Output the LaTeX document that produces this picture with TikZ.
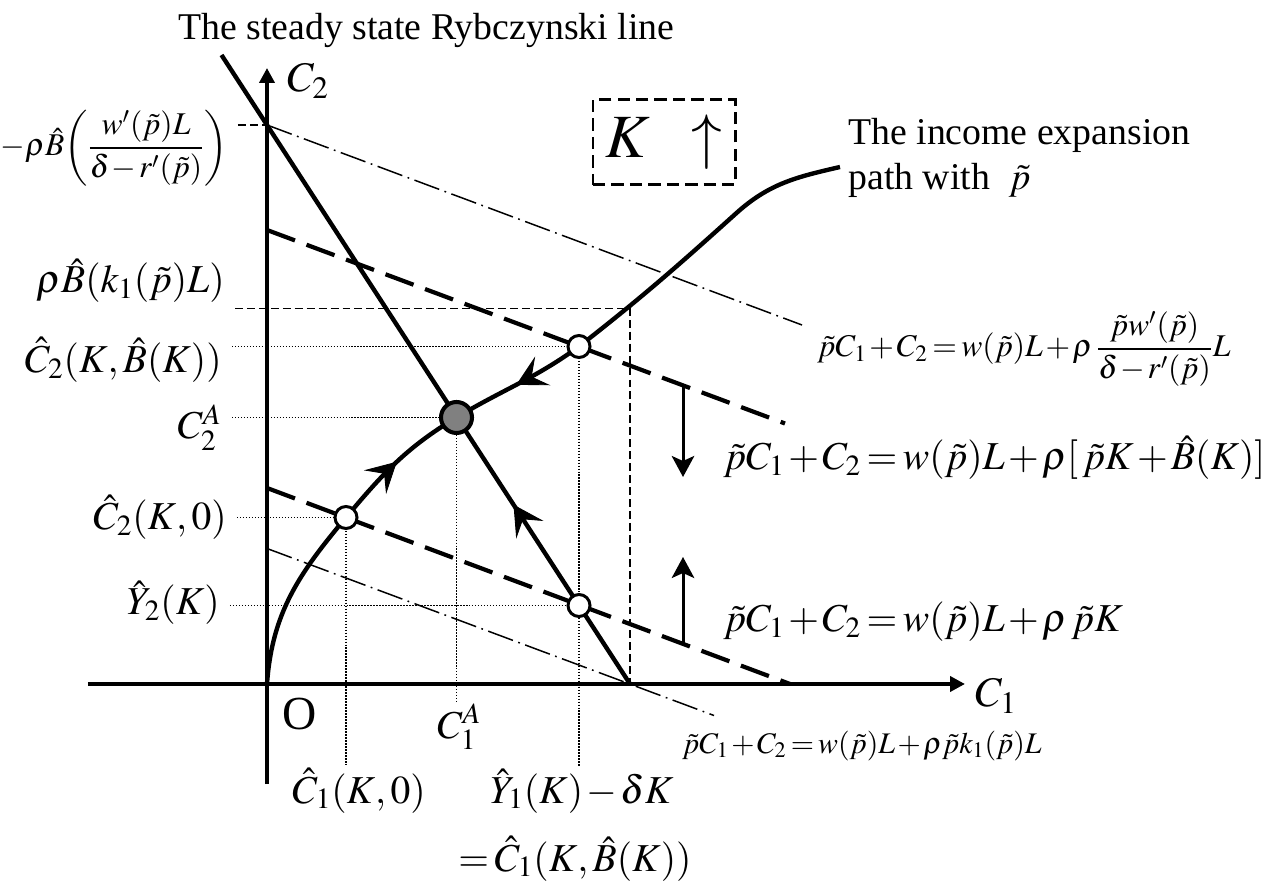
\documentclass[tikz,border=0pt]{standalone}
\usepackage{mathptmx}
\usepackage[no-math]{fontspec}
\setmainfont{Liberation Serif}
\usetikzlibrary{arrows.meta,decorations.markings}
\newcommand{\tightops}{\medmuskip=1.5mu\thickmuskip=2.5mu}

\tikzset{
  flowtip/.tip={Stealth[length=0.6cm,width=0.65cm,inset=0.25cm,line width=0.5pt]},
  axis/.style={line width=2.6pt,-{Triangle[length=0.3cm,width=0.3cm]}},
  curveline/.style={line width=2.5pt},
  budget/.style={line width=2.4pt,dash pattern=on 17pt off 7pt},
  dashdot/.style={line width=0.85pt,dash pattern=on 15pt off 3.2pt on 1pt off 3.2pt},
  guide/.style={line width=0.85pt,dash pattern=on 0.85pt off 0.85pt},
  guidedash/.style={line width=0.85pt,dash pattern=on 4.5pt off 2.3pt},
  shift arrow/.style={line width=1.7pt,-{Stealth[length=0.42cm,width=0.45cm,inset=0.1cm]}},
  midarrow/.style={postaction={decorate},decoration={markings,mark=at position #1 with {\arrow{flowtip}}}},
  midarrowback/.style={postaction={decorate},decoration={markings,mark=at position #1 with {\arrowreversed{flowtip}}}},
  opendot/.style={circle,draw,fill=white,line width=1.7pt,inner sep=0pt,minimum size=0.44cm},
  eqdot/.style={circle,draw,fill=gray,line width=2.3pt,inner sep=0pt,minimum size=0.62cm},
  leftlab/.style={anchor=base east,inner xsep=0.2cm,inner ysep=0.05cm},
  downlab/.style={anchor=base west,inner sep=0.05cm},
  axislab/.style={anchor=base west,font=\fontsize{24}{28}\selectfont},
  bigmath/.style={anchor=base west,font=\fontsize{22.5}{27}\selectfont\tightops},
  smallmath/.style={anchor=base west,font=\fontsize{18}{22}\selectfont\tightops},
  words/.style={anchor=base west,font=\fontsize{21.5}{25}\selectfont},
}

\begin{document}
\begin{tikzpicture}[font=\fontsize{22.5}{27}\selectfont\tightops,inner sep=0pt]
  \useasboundingbox (-5.34,-3.96) rectangle (19.92,13.68);
  % key points
  \coordinate (O) at (0,0);
  \coordinate (ptB) at (1.58,3.33);
  \coordinate (ptE) at (3.79,5.33);
  \coordinate (ptA) at (6.24,6.75);
  \coordinate (ptD) at (6.24,1.57);
  \coordinate (rybTop) at (-0.91,12.58);
  \coordinate (rybFoot) at (7.26,0);
  \coordinate (rybCut) at (0,11.18);
  \coordinate (kink) at (7.26,7.51);
  \coordinate (pathBend) at (9.39,9.42);
  \coordinate (pathEnd) at (11.46,10.34);
  \coordinate (xStart) at (-3.58,0);
  \coordinate (xEnd) at (13.96,0);
  \coordinate (yStart) at (0,-2.0);
  \coordinate (yEnd) at (0,12.32);

  % labels on the C2 side
  \node[leftlab,anchor=east,font=\fontsize{18}{22}\selectfont\tightops] (lTop) at (-0.58,10.72)
    {$-\rho\hat B\!\left(\displaystyle\frac{w'(\tilde p)L}{\delta-r'(\tilde p)}\right)$};
  \node[leftlab] (lRhoB) at (-0.64,7.82) {$\rho\hat B(k_1(\tilde p)L)$};
  \node[leftlab] (lC2B) at (-0.7,6.23) {$\hat C_2(K,\hat B(K))$};
  \node[leftlab] (lC2A) at (-0.7,4.9) {$C_2^A$};
  \node[leftlab] (lC20) at (-0.6,3.08) {$\hat C_2(K,0)$};
  \node[leftlab] (lY2) at (-0.74,1.38) {$\hat Y_2(K)$};

  % labels on the C1 side
  \node[anchor=base west,font=\fontsize{27}{30}\selectfont] (oLab) at (0.30,-0.92) {O};
  \node[downlab] (lC1A) at (3.35,-1.08) {$C_1^A$};
  \node[downlab] (lC1K) at (0.45,-2.38) {$\hat C_1(K,0)$};
  \node[downlab] (lY1) at (4.41,-2.38) {$\hat Y_1(K)-\delta K$};
  \node[downlab] (lEq) at (3.77,-3.74) {$=\hat C_1(K,\hat B(K))$};

  % guide lines
  \draw[guidedash] (lTop.east |- rybCut) -- (rybCut);
  \draw[guidedash] (lRhoB.east |- kink) -- (kink) -- (rybFoot);
  \draw[guide] (lC2B.east |- ptA) -- (ptA) -- (ptA |- lY1.north);
  \draw[guide] (lC2A.east |- ptE) -- (ptE) -- (ptE |- lC1A.north);
  \draw[guide] (lC20.east |- ptB) -- (ptB) -- (ptB |- lC1K.north);
  \draw[guide] (lY2.east |- ptD) -- (ptD);

  % budget lines
  \draw[dashdot] (rybCut) -- (10.7,7.18);
  \draw[budget] (0,9.08) -- (10.36,5.21);
  \draw[budget] (0,3.92) -- (10.46,0);
  \draw[dashdot] (0,2.71) -- (8.94,-0.63);

  % axes
  \draw[axis] (xStart) -- (xEnd);
  \draw[axis] (yStart) -- (yEnd);
  \node[axislab] (c2Lab) at (0.40,11.84) {$C_2$};
  \node[axislab] (c1Lab) at (14.16,-0.46) {$C_1$};

  % Rybczynski line and income expansion path
  \draw[curveline,midarrowback=0.715] (rybTop) -- (rybFoot);
  \draw[curveline,midarrow=0.78] (O) to[out=86,in=230] (ptB) to[out=50,in=211] (ptE);
  \draw[curveline,midarrow=0.52] (ptA) to[out=216,in=31] (ptE);
  \draw[curveline] (ptA) to[out=38,in=222] (pathBend) to[out=42,in=193] (pathEnd);

  \node[opendot] (dotA) at (ptA) {};
  \node[opendot] (dotB) at (ptB) {};
  \node[opendot] (dotD) at (ptD) {};
  \node[eqdot] (dotE) at (ptE) {};

  % shifts of the budget line
  \draw[shift arrow] (8.32,5.97) -- (8.32,4.14);
  \draw[shift arrow] (8.32,0.81) -- (8.32,2.54);

  % texts
  \node[words] (rybTitle) at (-1.78,12.88) {The steady state Rybczynski line};
  \node[words] (incLine1) at (11.62,10.78) {The income expansion};
  \node[words] (incLine2) at (11.62,9.88) {path with\enspace$\tilde p$};
  \node[draw,line width=1.7pt,dash pattern=on 7pt off 3.5pt,minimum width=2.84cm,minimum height=1.7cm,
    font=\fontsize{35}{40}\selectfont] (kBox) at (7.94,10.83) {$K\;\;\uparrow$};

  \node[smallmath] (eqTop) at (11.0,6.54)
    {$\tilde pC_1+C_2=w(\tilde p)L+\rho\,\displaystyle\frac{\tilde pw'(\tilde p)}{\delta-r'(\tilde p)}L$};
  \node[bigmath] (eqMid) at (9.12,4.28) {$\tilde pC_1+C_2=w(\tilde p)L+\rho[\,\tilde pK+\hat B(K)]$};
  \node[bigmath] (eqLow) at (9.12,1.04) {$\tilde pC_1+C_2=w(\tilde p)L+\rho\,\tilde pK$};
  \node[smallmath,anchor=base east,font=\fontsize{17}{21}\selectfont\tightops] (eqBot) at (15.5,-1.38)
    {$\tilde pC_1+C_2=w(\tilde p)L+\rho\tilde pk_1(\tilde p)L$};
\end{tikzpicture}
\end{document}
